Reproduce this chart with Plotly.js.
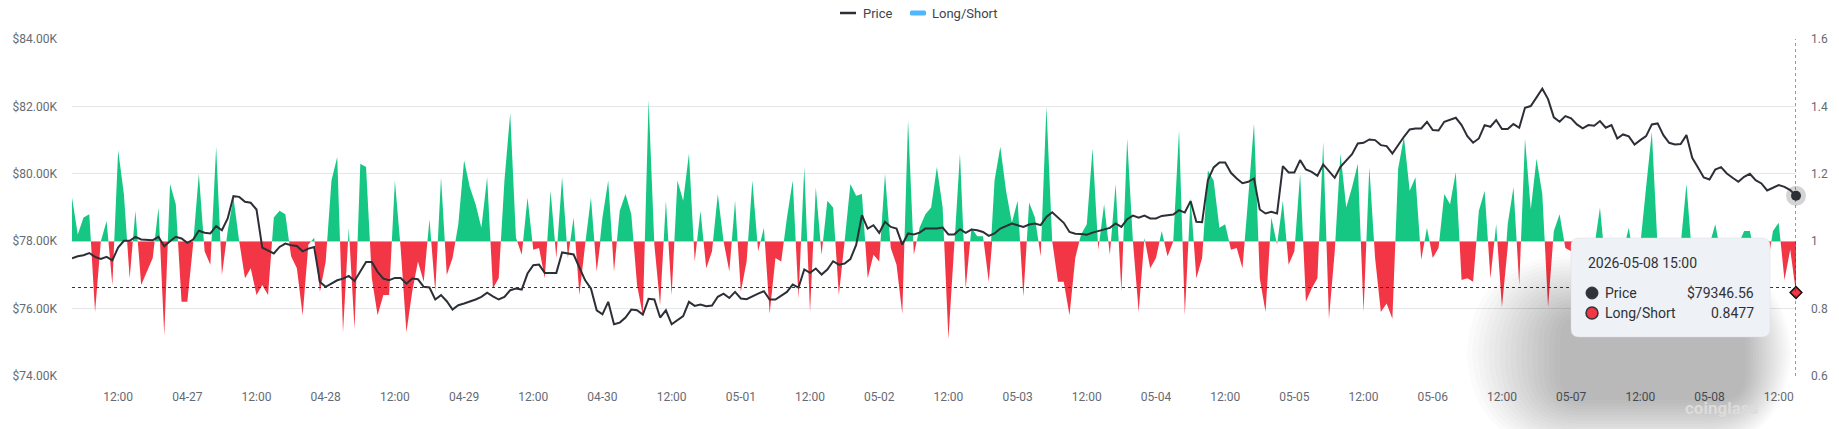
<!DOCTYPE html>
<html>
<head>
<meta charset="utf-8">
<script src="https://cdn.plot.ly/plotly-3.0.1.min.js"></script>
<style>
  html, body { margin: 0; padding: 0; background: #ffffff; }
  #chart { width: 1839px; height: 429px; }
</style>
</head>
<body>
<div id="chart"></div>
<script>
// ---------------- DATA ----------------
const startTime = '2026-04-26 04:00';   // first hourly sample
const price = [
  77495, 77555, 77585, 77650, 77535, 77475, 77535, 77435, 77810, 78010,
  78010, 78130, 78050, 78030, 78030, 78130, 77850, 78000, 78130, 78080,
  77950, 78050, 78310, 78250, 78230, 78445, 78325, 78675, 79335, 79315,
  79170, 79140, 78940, 77810, 77720,
  77635, 77830, 77930, 77880, 77860, 77700, 77780, 77830, 76790, 76645,
  76740, 76840, 76890, 76970, 76820, 77090, 77385, 77385, 77090, 76890,
  76840, 76910, 76910, 76740, 76890, 76870, 76645, 76625, 76270, 76400,
  76220, 75970, 76100, 76150,
  76200, 76270, 76350, 76475, 76365, 76270, 76350, 76545, 76595, 76565,
  77040, 77290, 77305, 77060, 77060, 77060, 77665, 77635, 77605, 77220,
  76840, 76595, 75950, 75830, 76200, 75535, 75585, 75735, 75970, 75950,
  75820, 76290, 76270, 75735,
  75950, 75535, 75655, 75780, 76200, 76080, 76120, 76070, 76090, 76350,
  76445, 76315, 76495, 76300, 76280, 76375, 76445, 76515, 76270, 76270,
  76375, 76495, 76715, 76625, 77160, 77060, 77190, 77010, 77160, 77405,
  77305, 77335, 77470, 77890,
  78770, 78375, 78475, 78250, 78575, 78425, 78375, 77900, 78230, 78200,
  78255, 78375, 78375, 78375, 78405, 78200, 78200, 78355, 78250, 78345,
  78325, 78275, 78160, 78230, 78375, 78445, 78525, 78475, 78425, 78495,
  78525, 78475, 78720, 78860,
  78700, 78545, 78275, 78220, 78210, 78190, 78255, 78300, 78365, 78395,
  78525, 78425, 78655, 78760, 78695, 78760, 78675, 78675, 78750, 78770,
  78790, 78920, 78850, 79190, 78575, 78565, 79810, 80190, 80335, 80335,
  80030, 79860, 79720,
  79762, 79861, 78940, 78822, 78871, 78822, 80228, 80039, 80039, 80406,
  80129, 80059, 79940, 80277, 80079, 79881, 80208, 80406, 80584, 80901,
  80921, 81020, 81000, 80851, 80822, 80604, 80871, 81099, 81317, 81346,
  81346, 81544, 81297, 81287,
  81544, 81614, 81663, 81445, 81119, 80921, 81049, 81445, 81396, 81594,
  81326, 81326, 81475, 81366, 81960, 82010, 82287, 82524, 82217, 81673,
  81544, 81713, 81643, 81465, 81346, 81445, 81425, 81564, 81366, 81445,
  81049, 81168, 81110,
  80870, 81000, 81119, 81465, 81495, 81148, 80921, 80871, 80881, 81148,
  80475, 80188, 79891, 79832, 80129, 80198, 80010, 79881, 79762, 79911,
  80000, 79812, 79713, 79505, 79594, 79663, 79614, 79515, 79346.56
];
const longShort = [
  1.13, 1.02, 1.07, 1.08, 0.79, 1.00, 1.06, 0.87, 1.27, 1.14,
  0.89, 1.09, 0.87, 0.91, 0.95, 1.10, 0.72, 1.17, 1.11, 0.82,
  0.82, 0.99, 1.20, 0.97, 0.93, 1.28, 0.90, 1.03, 1.13, 1.00,
  0.89, 0.92, 0.84, 0.87, 0.84,
  1.07, 1.09, 1.08, 0.955, 0.92, 0.78, 0.99, 1.01, 0.85, 0.94,
  1.18, 1.25, 0.73, 1.04, 0.74, 1.23, 1.22, 0.89, 0.78, 0.84,
  0.84, 1.18, 0.98, 0.73, 0.85, 0.94, 0.88, 1.065, 0.85, 1.19,
  0.90, 0.95, 1.05, 1.24,
  1.16, 1.11, 1.04, 1.19, 0.86, 0.89, 1.18, 1.38, 1.01, 0.96,
  1.13, 0.975, 0.98, 0.89, 1.15, 0.95, 1.19, 0.95, 1.07, 0.84,
  0.99, 1.13, 0.91, 1.07, 1.18, 0.91, 1.09, 1.14, 1.08, 0.87,
  0.78, 1.42, 0.99, 0.81,
  1.12, 0.84, 1.18, 1.12, 1.26, 0.94, 1.09, 0.92, 0.97, 1.14,
  1.00, 0.91, 1.12, 0.85, 0.94, 1.18, 0.97, 1.04, 0.785, 0.95,
  0.94, 1.07, 1.18, 0.83, 1.22, 0.79, 1.16, 0.96, 1.12, 1.10,
  0.84, 1.00, 1.17, 1.135,
  1.14, 0.89, 0.96, 0.94, 1.20, 0.98, 0.93, 0.785, 1.36, 0.96,
  1.04, 1.08, 1.10, 1.22, 1.10, 0.71, 0.98, 1.26, 0.86, 1.04,
  1.015, 1.015, 0.88, 1.18, 1.28, 1.15, 1.055, 1.12, 0.835, 1.115,
  1.07, 0.955, 1.40,
  1.00, 0.88, 0.88, 0.78, 0.95, 1.02, 1.05, 1.275, 0.975, 1.11,
  0.96, 1.17, 0.85, 1.305, 1.00, 0.79, 1.01, 0.92, 0.95, 1.03,
  0.955, 1.00, 1.33, 0.78, 1.13, 0.89, 0.95, 1.21, 1.18, 1.04,
  1.05, 0.975, 0.98, 0.92,
  1.13, 1.35, 0.89, 0.79, 1.07, 0.99, 1.12, 0.93, 0.97, 1.20,
  0.82, 0.86, 0.89, 1.295, 0.77, 0.97, 1.26, 1.10, 1.16, 1.23,
  0.79, 1.22, 0.95, 0.79, 0.815, 0.77, 1.215, 1.31, 1.15, 1.19,
  0.945, 1.04, 0.95, 0.98,
  1.14, 1.11, 1.205, 0.885, 0.89, 0.88, 1.09, 1.15, 0.89, 1.05,
  0.805, 1.05, 1.16, 0.87, 1.305, 1.095, 1.245, 1.14, 0.805, 1.03,
  1.08, 0.98, 0.97, 0.93, 0.96, 0.90, 0.98, 1.10, 0.92, 0.88,
  0.95, 0.97, 1.04, 0.93, 0.99, 1.16, 1.325, 0.98, 0.90, 0.86,
  0.93, 0.99, 1.17, 0.95, 0.88, 0.91, 0.99, 1.05, 0.96, 0.90,
  0.94, 0.99, 1.03, 1.03, 0.95, 0.89, 0.92, 1.03, 1.055, 0.885,
  0.975, 0.8477
];
const xTickVals = [
  '2026-04-26 12:00','2026-04-27 00:00','2026-04-27 12:00','2026-04-28 00:00','2026-04-28 12:00',
  '2026-04-29 00:00','2026-04-29 12:00','2026-04-30 00:00','2026-04-30 12:00','2026-05-01 00:00',
  '2026-05-01 12:00','2026-05-02 00:00','2026-05-02 12:00','2026-05-03 00:00','2026-05-03 12:00',
  '2026-05-04 00:00','2026-05-04 12:00','2026-05-05 00:00','2026-05-05 12:00','2026-05-06 00:00',
  '2026-05-06 12:00','2026-05-07 00:00','2026-05-07 12:00','2026-05-08 00:00','2026-05-08 12:00'
];
const xTickText = [
  '12:00','04-27','12:00','04-28','12:00','04-29','12:00','04-30','12:00','05-01',
  '12:00','05-02','12:00','05-03','12:00','05-04','12:00','05-05','12:00','05-06',
  '12:00','05-07','12:00','05-08','12:00'
];
const priceTickVals = [74000, 76000, 78000, 80000, 82000, 84000];
const priceTickText = ['$74.00K', '$76.00K', '$78.00K', '$80.00K', '$82.00K', '$84.00K'];
const ratioTickVals = [0.6, 0.8, 1, 1.2, 1.4, 1.6];
const ratioTickText = ['0.6', '0.8', '1', '1.2', '1.4', '1.6'];
const seriesNames = ['Price', 'Long/Short'];

// ---------------- BUILD ----------------
function pad(n) { return (n < 10 ? '0' : '') + n; }
function fmt(ms) {
  const d = new Date(ms);
  return d.getUTCFullYear() + '-' + pad(d.getUTCMonth() + 1) + '-' + pad(d.getUTCDate()) +
    ' ' + pad(d.getUTCHours()) + ':' + pad(d.getUTCMinutes());
}
const startMs = Date.parse(startTime.replace(' ', 'T') + ':00Z');
const times = price.map((_, i) => fmt(startMs + i * 3600000));
const last = price.length - 1;

const GREEN = '#16c784', RED = '#f23645', DARK = '#2c2f36';
const FONT = 'Roboto, "Noto Sans", sans-serif';

// figure geometry (pixels)
const W = 1839, H = 429, ML = 72, MR = 43, MT = 39, MB = 53;
const PW = W - ML - MR, PH = H - MT - MB;
const px = x => (x - ML) / PW;
const py = y => (H - MB - y) / PH;
function rr(x0, y0, x1, y1, r) {
  const rx = r / PW, ry = r / PH;
  const X0 = px(x0), X1 = px(x1), Y0 = py(y0), Y1 = py(y1);
  return `M ${X0 + rx},${Y0} L ${X1 - rx},${Y0} Q ${X1},${Y0} ${X1},${Y0 - ry} ` +
    `L ${X1},${Y1 + ry} Q ${X1},${Y1} ${X1 - rx},${Y1} L ${X0 + rx},${Y1} ` +
    `Q ${X0},${Y1} ${X0},${Y1 + ry} L ${X0},${Y0 - ry} Q ${X0},${Y0} ${X0 + rx},${Y0} Z`;
}

const traces = [
  { // green part (above 1), clipped by its subplot domain
    x: times, y: longShort, xaxis: 'x', yaxis: 'y', type: 'scatter', mode: 'none',
    fill: 'tozeroy', fillcolor: GREEN, showlegend: false, hoverinfo: 'skip'
  },
  { // baseline at 1 for the red part
    x: [times[0], times[last]], y: [1, 1], xaxis: 'x', yaxis: 'y2', type: 'scatter', mode: 'lines',
    line: { color: 'rgba(0,0,0,0)', width: 1 }, showlegend: false, hoverinfo: 'skip'
  },
  { // red part (below 1)
    x: times, y: longShort, xaxis: 'x', yaxis: 'y2', type: 'scatter', mode: 'lines',
    line: { color: 'rgba(0,0,0,0)', width: 0.5 }, fill: 'tonexty', fillcolor: RED,
    showlegend: false, hoverinfo: 'skip'
  },
  {
    x: times, y: price, xaxis: 'x', yaxis: 'y3', type: 'scatter', mode: 'lines',
    name: seriesNames[0], line: { color: DARK, width: 2 }, showlegend: false
  },
  { // hover halo on last price point
    x: [times[last]], y: [price[last]], xaxis: 'x', yaxis: 'y3', type: 'scatter', mode: 'markers',
    marker: { size: 20, color: 'rgba(60,60,60,0.22)' }, showlegend: false, hoverinfo: 'skip', cliponaxis: false
  },
  {
    x: [times[last]], y: [price[last]], xaxis: 'x', yaxis: 'y3', type: 'scatter', mode: 'markers',
    marker: { size: 10, color: DARK }, showlegend: false, hoverinfo: 'skip', cliponaxis: false
  },
  {
    x: [times[last]], y: [longShort[last]], xaxis: 'x', yaxis: 'y4', type: 'scatter', mode: 'markers',
    name: seriesNames[1],
    marker: { size: 9, symbol: 'diamond', color: RED, line: { color: '#111', width: 1.5 } },
    showlegend: false, hoverinfo: 'skip', cliponaxis: false
  }
];

const shapes = [];
// tooltip shadow (soft, offset downward)
for (let i = 0; i < 18; i++) {
  const e = 85 - 5 * i;
  shapes.push({ type: 'path', xref: 'paper', yref: 'paper',
    path: rr(1560 - e * 1.1, 315 - e * 0.7, 1745 + e * 0.55, 400 + e * 0.6, 25 + e),
    fillcolor: 'rgba(0,0,0,0.016)', line: { width: 0 }, layer: 'above' });
}
// crosshair (cursor position)
shapes.push({ type: 'line', xref: 'x', yref: 'paper', x0: times[last], x1: times[last], y0: 0, y1: 1,
  line: { color: '#333', width: 1, dash: 'dot' }, layer: 'above' });
shapes.push({ type: 'line', xref: 'paper', yref: 'paper', x0: 0, x1: 1, y0: py(287.5), y1: py(287.5),
  line: { color: '#333', width: 1, dash: 'dot' }, layer: 'above' });
// tooltip box
shapes.push({ type: 'path', xref: 'paper', yref: 'paper', path: rr(1571, 238, 1770, 337, 8),
  fillcolor: '#eef1f5', line: { color: 'rgba(215,220,226,0.9)', width: 0.5 }, layer: 'above' });
// tooltip bullets
function circ(cx, cy, r, fill, lineColor, lw) {
  return { type: 'circle', xref: 'paper', yref: 'paper', x0: px(cx - r), x1: px(cx + r), y0: py(cy + r), y1: py(cy - r),
    fillcolor: fill, line: { color: lineColor, width: lw }, layer: 'above' };
}
shapes.push(circ(1592, 293, 6, '#30333a', '#30333a', 1));
shapes.push(circ(1592, 313, 6, RED, '#30333a', 1.5));
// legend icons
shapes.push({ type: 'line', xref: 'paper', yref: 'paper', x0: px(840), x1: px(856), y0: py(13), y1: py(13),
  line: { color: DARK, width: 2.5 } });
shapes.push({ type: 'path', xref: 'paper', yref: 'paper', path: rr(910, 10.5, 926, 15.5, 1.5),
  fillcolor: '#4fb6ff', line: { width: 0 } });

const ttFont = { family: FONT, size: 14, color: '#2e3138' };
const legFont = { family: FONT, size: 13, color: '#3d4451' };
const annotations = [
  { xref: 'paper', yref: 'paper', x: px(861), y: py(13), xanchor: 'left', yanchor: 'middle', showarrow: false,
    text: seriesNames[0], font: legFont },
  { xref: 'paper', yref: 'paper', x: px(930), y: py(13), xanchor: 'left', yanchor: 'middle', showarrow: false,
    text: seriesNames[1], font: legFont },
  { xref: 'paper', yref: 'paper', x: px(1586), y: py(263), xanchor: 'left', yanchor: 'middle', showarrow: false,
    text: times[last], font: ttFont },
  { xref: 'paper', yref: 'paper', x: px(1603), y: py(293), xanchor: 'left', yanchor: 'middle', showarrow: false,
    text: seriesNames[0], font: ttFont },
  { xref: 'paper', yref: 'paper', x: px(1756), y: py(293), xanchor: 'right', yanchor: 'middle', showarrow: false,
    text: '$' + price[last].toFixed(2), font: ttFont },
  { xref: 'paper', yref: 'paper', x: px(1603), y: py(313), xanchor: 'left', yanchor: 'middle', showarrow: false,
    text: seriesNames[1], font: ttFont },
  { xref: 'paper', yref: 'paper', x: px(1756), y: py(313), xanchor: 'right', yanchor: 'middle', showarrow: false,
    text: longShort[last].toFixed(4), font: ttFont },
  { xref: 'paper', yref: 'paper', x: px(1722), y: py(408), xanchor: 'center', yanchor: 'middle', showarrow: false,
    text: '<b>coinglass</b>', font: { family: FONT, size: 17, color: '#dcdcdc' } }
];

const tickFont = { family: FONT, size: 12, color: '#666a73' };
const layout = {
  width: W, height: H,
  margin: { l: ML, r: MR, t: MT, b: MB, pad: 0, autoexpand: false },
  paper_bgcolor: '#ffffff', plot_bgcolor: 'rgba(0,0,0,0)',
  hovermode: false,
  showlegend: false,
  xaxis: {
    type: 'date', range: [times[0], times[last]], anchor: 'y3',
    tickmode: 'array', tickvals: xTickVals, ticktext: xTickText,
    showgrid: false, zeroline: false, showline: false, ticks: '',
    tickfont: tickFont, ticklabelstandoff: 12, fixedrange: true
  },
  yaxis: { // green
    domain: [0.4, 1], range: [1, 1.6], anchor: 'x',
    tickmode: 'array', tickvals: ratioTickVals, showgrid: true, gridcolor: '#e4e6ea', gridwidth: 1,
    showticklabels: false, zeroline: false, showline: false, ticks: ''
  },
  yaxis2: { // red
    domain: [0, 0.4], range: [0.6, 1], anchor: 'x',
    tickmode: 'array', tickvals: ratioTickVals, showgrid: true, gridcolor: '#e4e6ea', gridwidth: 1,
    showticklabels: false, zeroline: false, showline: false, ticks: ''
  },
  yaxis3: { // price
    domain: [0, 1], range: [74000, 84000], anchor: 'x', side: 'left',
    tickmode: 'array', tickvals: priceTickVals, ticktext: priceTickText,
    showgrid: false, zeroline: false, showline: false, ticks: '',
    tickfont: tickFont, ticklabelstandoff: 14
  },
  yaxis4: { // long/short labels
    overlaying: 'y3', side: 'right', range: [0.6, 1.6], anchor: 'x',
    tickmode: 'array', tickvals: ratioTickVals, ticktext: ratioTickText,
    showgrid: false, zeroline: false, showline: false, ticks: '',
    tickfont: tickFont, ticklabelstandoff: 14
  },
  shapes: shapes,
  annotations: annotations
};

Plotly.newPlot('chart', traces, layout, { displayModeBar: false, staticPlot: true });
</script>
</body>
</html>
